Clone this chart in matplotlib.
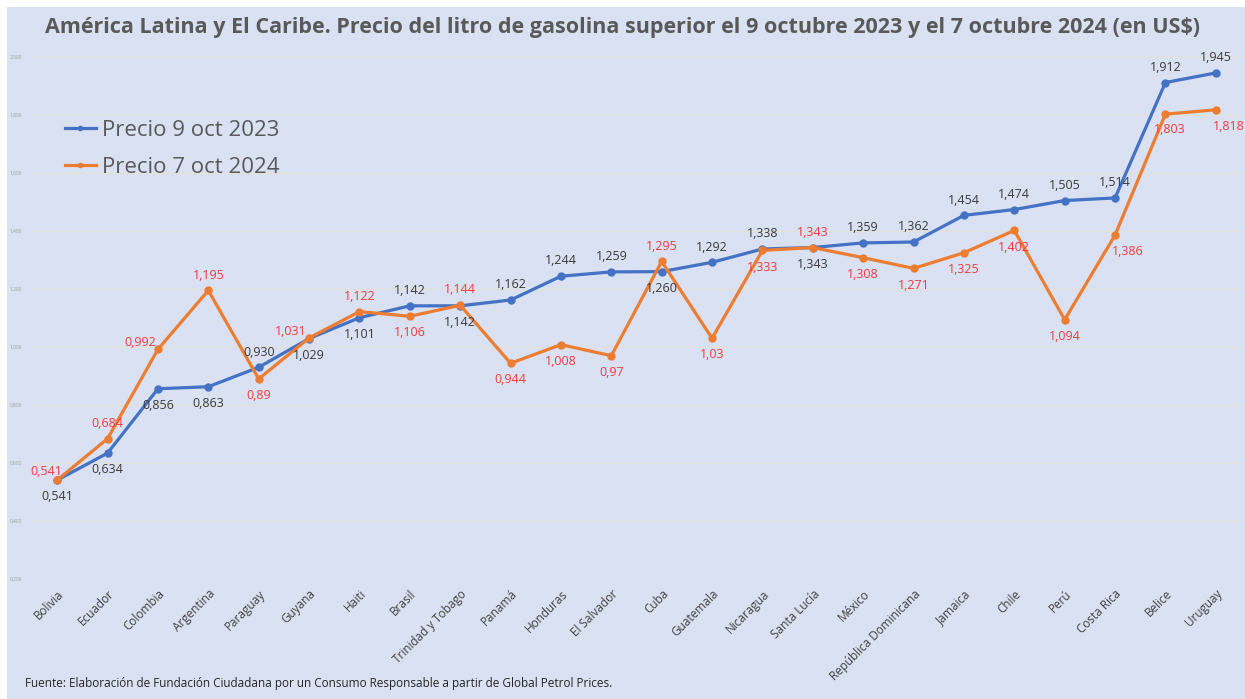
import matplotlib.pyplot as plt
from matplotlib.patches import Rectangle
from matplotlib.ticker import FixedLocator, FuncFormatter

COUNTRIES = [
    'Bolivia', 'Ecuador', 'Colombia', 'Argentina', 'Paraguay', 'Guyana',
    'Haiti', 'Brasil', 'Trinidad y Tobago', 'Panamá', 'Honduras',
    'El Salvador', 'Cuba', 'Guatemala', 'Nicaragua', 'Santa Lucía',
    'México', 'República Dominicana', 'Jamaica', 'Chile', 'Perú',
    'Costa Rica', 'Belice', 'Uruguay',
]
PRICE_2023 = [
    0.541, 0.634, 0.856, 0.863, 0.930, 1.029, 1.101, 1.142, 1.142, 1.162,
    1.244, 1.259, 1.260, 1.292, 1.338, 1.343, 1.359, 1.362, 1.454, 1.474,
    1.505, 1.514, 1.912, 1.945,
]
PRICE_2024 = [
    0.541, 0.684, 0.992, 1.195, 0.89, 1.031, 1.122, 1.106, 1.144, 0.944,
    1.008, 0.97, 1.295, 1.03, 1.333, 1.343, 1.308, 1.271, 1.325, 1.402,
    1.094, 1.386, 1.803, 1.818,
]
LABELS_2023 = [f'{v:.3f}'.replace('.', ',') for v in PRICE_2023]
LABELS_2024 = [f'{v:g}'.replace('.', ',') for v in PRICE_2024]
Y_TICKS = [0.2, 0.4, 0.6, 0.8, 1.0, 1.2, 1.4, 1.6, 1.8, 2.0]

# label placement: a = above, b = below, l = left, L = just left (small), r = right-below
POS_2023 = 'bbbbabbabaaabaabaaaaaaaa'
POS_2024 = 'LalablababbbabbabbbbbrBr'

BLUE = '#4472C4'
ORANGE = '#ED7D31'
BG = '#D9E1F2'
GREY = '#595959'

plt.rcParams['font.family'] = ['Open Sans', 'DejaVu Sans']

fig = plt.figure(figsize=(12.45, 6.99), dpi=100)
fig.patches.append(Rectangle((7 / 1245, 0), 1, 1 - 7 / 699, transform=fig.transFigure,
                             facecolor=BG, edgecolor='none', zorder=-10))
ax = fig.add_axes([32 / 1245, 1 - 579 / 699, 1209 / 1245, 522 / 699])
ax.set_facecolor('none')

xs = list(range(len(COUNTRIES)))
ax.plot(xs, PRICE_2023, color=BLUE, lw=2.3, marker='o', ms=5, label='Precio 9 oct 2023', zorder=3)
ax.plot(xs, PRICE_2024, color=ORANGE, lw=2.3, marker='o', ms=5, label='Precio 7 oct 2024', zorder=3)

OFFSETS = {'a': (0, 11), 'b': (0, -12), 'l': (-13, 5), 'L': (-8, 6),
           'r': (9, -12), 'B': (3, -11)}


def put_labels(values, labels, places, color):
    for x, v, t, p in zip(xs, values, labels, places):
        ax.annotate(t, (x, v), xytext=OFFSETS[p], textcoords='offset points',
                    ha='center', va='center', fontsize=9, color=color, zorder=4)


put_labels(PRICE_2023, LABELS_2023, POS_2023, '#3A3A3A')
put_labels(PRICE_2024, LABELS_2024, POS_2024, '#F0393E')

ax.set_xlim(-0.5, len(COUNTRIES) - 0.5)
ax.set_ylim(0.2, 2.0)
ax.yaxis.set_major_locator(FixedLocator(Y_TICKS))
ax.yaxis.set_major_formatter(FuncFormatter(lambda v, _: f'{v:.3f}'.replace('.', ',')))
ax.tick_params(axis='y', length=0, labelsize=3.5, labelcolor='#A0A0A0', pad=7)
ax.set_xticks(xs)
ax.set_xticklabels(COUNTRIES, rotation=45, ha='right', rotation_mode='anchor',
                   fontsize=8.5, color='#404040')
ax.tick_params(axis='x', length=0, pad=6)
ax.grid(axis='y', color='#E3E1DA', lw=1)
ax.set_axisbelow(True)
for s in ax.spines.values():
    s.set_visible(False)

ax.legend(loc='center left', bbox_to_anchor=(0.027, 0.824), frameon=False, fontsize=16,
          labelcolor=GREY, handlelength=1.4, handletextpad=0.3, labelspacing=0.75,
          borderpad=0, borderaxespad=0, markerscale=0.6)

fig.text(0.5, 1 - 27 / 699, 'América Latina y El Caribe. Precio del litro de gasolina superior '
         'el 9 octubre 2023 y el 7 octubre 2024 (en US$)', ha='center', va='center',
         fontsize=15.5, fontweight='bold', color=GREY)
fig.text(25 / 1245, 1 - 684 / 699, 'Fuente: Elaboración de Fundación Ciudadana por un Consumo '
         'Responsable a partir de Global Petrol Prices.', ha='left', va='center',
         fontsize=8.5, color='#262626')

fig.savefig('out.png', dpi=100)
